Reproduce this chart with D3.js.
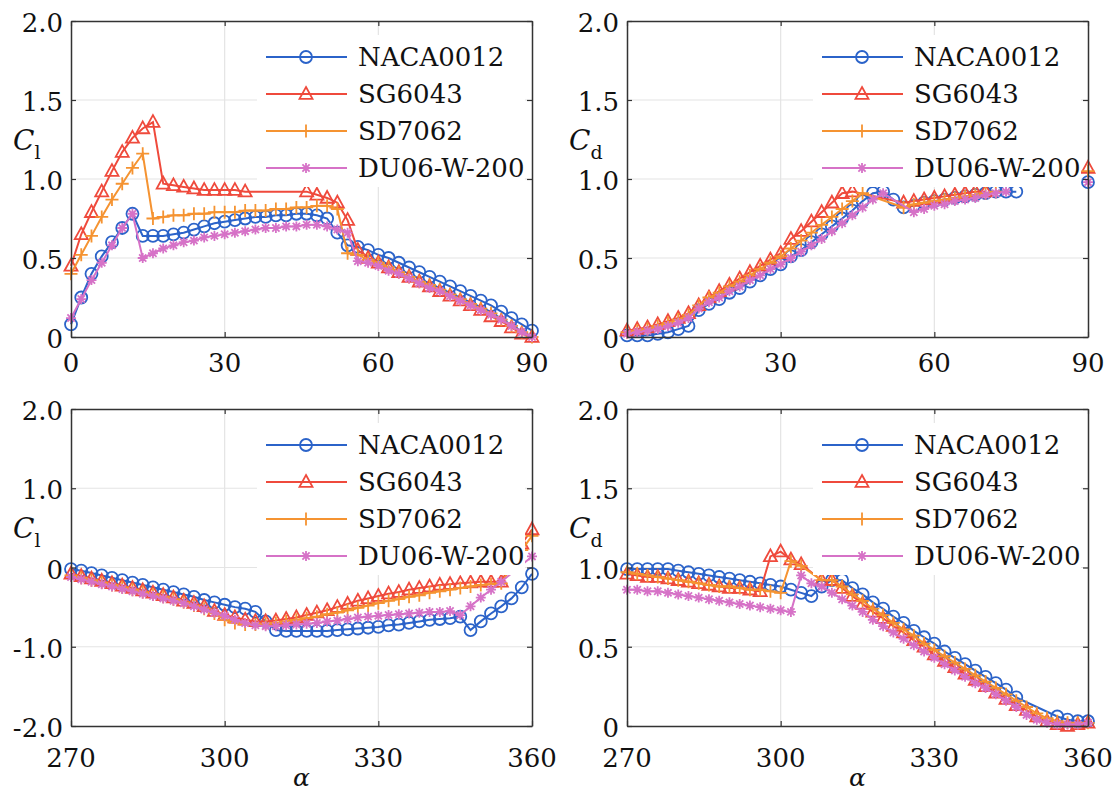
<!DOCTYPE html>
<html>
<head>
<meta charset="utf-8">
<script src="https://cdn.jsdelivr.net/npm/d3@7/dist/d3.min.js"></script>
<style>
  body { margin: 0; background: #fff; }
  text { font-family: "DejaVu Serif", serif; fill: #111; }
</style>
</head>
<body>
<svg id="chart" width="1116" height="794"></svg>
<script>
/* Lift / drag coefficients of four airfoils */
const names = ['NACA0012', 'SG6043', 'SD7062', 'DU06-W-200']
const colors = ['#2b63c9', '#ef4a3c', '#f59331', '#d672c7']
const markers = ['circle', 'triangle', 'plus', 'star']

const alphaPos = [0, 2, 4, 6, 8, 10, 12, 14, 16, 18, 20, 22, 24, 26, 28, 30, 32, 34, 36, 38, 40, 42, 44,
    46, 48, 50, 52, 54, 56, 58, 60, 62, 64, 66, 68, 70, 72, 74, 76, 78, 80, 82, 84, 86, 88, 90]
const alphaNeg = [270, 272, 274, 276, 278, 280, 282, 284, 286, 288, 290, 292, 294, 296, 298, 300, 302, 304,
    306, 308, 310, 312, 314, 316, 318, 320, 322, 324, 326, 328, 330, 332, 334, 336, 338, 340, 342, 344, 346,
    348, 350, 352, 354, 356, 358, 360]

const xTicksPos = [0, 30, 60, 90]
const xTicksNeg = [270, 300, 330, 360]
const yTicksA = [0, 0.5, 1, 1.5, 2]
const yTickLabelsA = ['0', '0.5', '1.0', '1.5', '2.0']
const yTicksB = [-2, -1, 0, 1, 2]
const yTickLabelsB = ['-2.0', '-1.0', '0', '1.0', '2.0']

// Cl, 0..90
const nacaClPos = [0.08, 0.25, 0.40, 0.51, 0.60, 0.69, 0.78, 0.64, 0.64, 0.64,
    0.65, 0.66, 0.68, 0.70, 0.72, 0.73, 0.74, 0.75, 0.76, 0.76,
    0.77, 0.77, 0.78, 0.78, 0.77, 0.75, 0.66, 0.58, 0.57, 0.55,
    0.52, 0.50, 0.47, 0.44, 0.41, 0.38, 0.35, 0.32, 0.29, 0.26,
    0.23, 0.20, 0.16, 0.12, 0.08, 0.04]
const sgClPos = [0.45, 0.65, 0.79, 0.92, 1.05, 1.17, 1.26, 1.32, 1.36, 0.97,
    0.96, 0.95, 0.94, 0.93, 0.93, 0.93, 0.93, 0.92, null, null,
    null, null, null, 0.92, 0.90, 0.88, 0.85, 0.74, 0.55, 0.50,
    0.47, 0.44, 0.41, 0.38, 0.35, 0.32, 0.29, 0.26, 0.23, 0.20,
    0.17, 0.13, 0.10, 0.06, 0.02, 0.00]
const sdClPos = [0.40, 0.52, 0.64, 0.76, 0.87, 0.97, 1.07, 1.16, 0.75, 0.76,
    0.77, 0.77, 0.78, 0.78, 0.79, 0.79, 0.79, 0.80, 0.80, 0.80,
    0.81, 0.81, 0.82, 0.82, 0.83, 0.83, 0.81, 0.53, 0.52, 0.49,
    0.47, 0.44, 0.41, 0.38, 0.35, 0.33, 0.30, 0.27, 0.24, 0.21,
    0.18, 0.15, 0.11, 0.07, 0.03, 0.00]
const duClPos = [0.12, 0.24, 0.36, 0.47, 0.58, 0.69, 0.78, 0.50, 0.53, 0.56,
    0.58, 0.60, 0.61, 0.63, 0.64, 0.65, 0.66, 0.67, 0.68, 0.69,
    0.69, 0.70, 0.70, 0.71, 0.71, 0.70, 0.68, 0.66, 0.48, 0.47,
    0.45, 0.42, 0.40, 0.37, 0.34, 0.31, 0.29, 0.26, 0.23, 0.20,
    0.17, 0.14, 0.11, 0.07, 0.03, 0.00]

// Cd, 0..90
const nacaCdPos = [0.01, 0.01, 0.01, 0.02, 0.03, 0.05, 0.07, 0.17, 0.21, 0.24,
    0.28, 0.31, 0.35, 0.39, 0.43, 0.46, 0.51, 0.55, 0.60, 0.65,
    0.70, 0.75, 0.80, 0.86, 0.91, 0.92, 0.87, 0.82, 0.83, 0.85,
    0.86, 0.87, 0.88, 0.89, 0.90, 0.91, 0.92, 0.92, 0.92, null,
    null, null, null, null, null, 0.98]
const sgCdPos = [0.04, 0.05, 0.06, 0.08, 0.10, 0.12, 0.15, 0.20, 0.25, 0.29,
    0.33, 0.37, 0.41, 0.45, 0.49, 0.53, 0.62, 0.67, 0.73, 0.79,
    0.85, 0.91, 0.92, null, null, null, null, 0.85, 0.86, 0.87,
    0.88, 0.89, 0.90, 0.91, 0.92, 0.92, null, null, null, null,
    null, null, null, null, null, 1.07]
const sdCdPos = [0.03, 0.04, 0.05, 0.07, 0.09, 0.11, 0.14, 0.20, 0.25, 0.28,
    0.32, 0.35, 0.39, 0.43, 0.47, 0.51, 0.56, 0.61, 0.66, 0.71,
    0.76, 0.81, 0.86, 0.91, null, null, null, 0.82, 0.84, 0.85,
    0.86, 0.87, 0.88, 0.89, 0.90, 0.91, 0.92, null, null, null,
    null, null, null, null, null, 1.05]
const duCdPos = [0.02, 0.03, 0.04, 0.05, 0.07, 0.09, 0.12, 0.18, 0.22, 0.25,
    0.29, 0.32, 0.36, 0.39, 0.43, 0.46, 0.50, 0.54, 0.58, 0.62,
    0.67, 0.72, 0.77, 0.82, 0.87, 0.91, null, null, 0.79, 0.81,
    0.83, 0.84, 0.86, 0.87, 0.88, 0.90, 0.91, 0.92, null, null,
    null, null, null, null, null, 0.98]

// Cl, 270..360
const nacaClNeg = [-0.02, -0.04, -0.07, -0.10, -0.13, -0.16, -0.19, -0.22, -0.25, -0.28,
    -0.31, -0.34, -0.37, -0.41, -0.44, -0.47, -0.50, -0.52, -0.56, -0.68,
    -0.79, -0.80, -0.80, -0.80, -0.80, -0.80, -0.79, -0.78, -0.77, -0.76,
    -0.75, -0.73, -0.72, -0.70, -0.68, -0.66, -0.65, -0.64, -0.62, -0.79,
    -0.68, -0.58, -0.49, -0.39, -0.25, -0.08]
const sgClNeg = [-0.08, -0.11, -0.14, -0.17, -0.20, -0.23, -0.26, -0.29, -0.32, -0.35,
    -0.38, -0.42, -0.45, -0.49, -0.55, -0.60, -0.63, -0.66, -0.68, -0.68,
    -0.67, -0.65, -0.63, -0.60, -0.57, -0.54, -0.50, -0.46, -0.42, -0.39,
    -0.36, -0.33, -0.31, -0.28, -0.26, -0.24, -0.22, -0.21, -0.20, -0.19,
    -0.18, -0.18, -0.18, null, 0.30, 0.48]
const sdClNeg = [-0.10, -0.13, -0.16, -0.19, -0.22, -0.25, -0.28, -0.31, -0.34, -0.37,
    -0.40, -0.44, -0.48, -0.52, -0.58, -0.66, -0.70, -0.72, -0.72, -0.71,
    -0.70, -0.68, -0.66, -0.64, -0.62, -0.59, -0.57, -0.54, -0.51, -0.48,
    -0.45, -0.42, -0.40, -0.37, -0.35, -0.32, -0.30, -0.28, -0.26, -0.24,
    -0.22, -0.21, -0.20, null, 0.22, 0.40]
const duClNeg = [-0.12, -0.15, -0.18, -0.21, -0.24, -0.27, -0.30, -0.33, -0.36, -0.39,
    -0.42, -0.45, -0.49, -0.53, -0.57, -0.61, -0.66, -0.70, -0.73, -0.74,
    -0.74, -0.73, -0.72, -0.71, -0.70, -0.68, -0.67, -0.65, -0.63, -0.62,
    -0.61, -0.60, -0.59, -0.58, -0.57, -0.56, -0.56, -0.55, -0.60, -0.49,
    -0.38, -0.28, -0.18, null, null, 0.14]

// Cd, 270..360
const nacaCdNeg = [0.99, 0.99, 0.99, 0.99, 0.99, 0.98, 0.97, 0.96, 0.95, 0.94,
    0.93, 0.92, 0.91, 0.90, 0.89, 0.88, 0.86, 0.84, 0.82, 0.88,
    0.92, 0.92, 0.87, 0.83, 0.78, 0.74, 0.69, 0.65, 0.60, 0.56,
    0.52, 0.47, 0.43, 0.39, 0.35, 0.31, 0.27, 0.23, 0.18, null,
    null, null, 0.06, 0.04, 0.03, 0.03]
const sgCdNeg = [0.96, 0.95, 0.94, 0.94, 0.93, 0.92, 0.91, 0.90, 0.89, 0.88,
    0.87, 0.87, 0.86, 0.85, 1.07, 1.10, 1.05, 1.02, null, 0.92,
    0.92, 0.87, 0.82, 0.77, 0.72, 0.68, 0.63, 0.59, 0.54, 0.50,
    0.45, 0.41, 0.37, 0.33, 0.29, 0.25, 0.21, 0.17, 0.13, 0.10,
    0.06, 0.03, 0.01, 0.00, 0.01, 0.02]
const sdCdNeg = [0.97, 0.96, 0.95, 0.94, 0.93, 0.92, 0.91, 0.90, 0.89, 0.88,
    0.88, 0.87, 0.86, 0.86, 0.85, 0.84, 1.04, 1.01, null, 0.92,
    0.92, 0.88, 0.83, 0.79, 0.74, 0.70, 0.65, 0.61, 0.57, 0.52,
    0.48, 0.44, 0.40, 0.36, 0.32, 0.28, 0.24, 0.20, 0.16, 0.12,
    0.08, 0.05, 0.03, 0.02, 0.02, 0.02]
const duCdNeg = [0.86, 0.86, 0.85, 0.85, 0.84, 0.83, 0.82, 0.81, 0.80, 0.79,
    0.78, 0.77, 0.76, 0.75, 0.74, 0.73, 0.72, 0.95, 0.90, 0.88,
    0.84, 0.80, 0.76, 0.72, 0.67, 0.63, 0.59, 0.55, 0.51, 0.47,
    0.43, 0.39, 0.35, 0.31, 0.27, 0.24, 0.20, 0.16, 0.12, 0.07,
    0.04, 0.02, 0.01, 0.01, 0.01, 0.02]

const plotW = 461
const maxGap = 12   // wider gaps in alpha are left open
const panels = [
    { left: 71, top: 21, h: 316, alpha: alphaPos, xd: [0, 90], xt: xTicksPos, yd: [0, 2], yt: yTicksA, ytl: yTickLabelsA,
      sub: 'l', series: [nacaClPos, sgClPos, sdClPos, duClPos], xlab: false },
    { left: 627, top: 21, h: 316, alpha: alphaPos, xd: [0, 90], xt: xTicksPos, yd: [0, 2], yt: yTicksA, ytl: yTickLabelsA,
      sub: 'd', series: [nacaCdPos, sgCdPos, sdCdPos, duCdPos], xlab: false },
    { left: 71, top: 409, h: 317, alpha: alphaNeg, xd: [270, 360], xt: xTicksNeg, yd: [-2, 2], yt: yTicksB, ytl: yTickLabelsB,
      sub: 'l', series: [nacaClNeg, sgClNeg, sdClNeg, duClNeg], xlab: true },
    { left: 627, top: 409, h: 317, alpha: alphaNeg, xd: [270, 360], xt: xTicksNeg, yd: [0, 2], yt: yTicksA, ytl: yTickLabelsA,
      sub: 'd', series: [nacaCdNeg, sgCdNeg, sdCdNeg, duCdNeg], xlab: true }
]

const svg = d3.select('#chart')

const markerPath = {
    triangle: 'M0,-7L6.5,4.8L-6.5,4.8Z',
    plus: 'M-6.5,0H6.5M0,-6.5V6.5',
    star: 'M-5,0H5M0,-5V5M-3.6,-3.6L3.6,3.6M-3.6,3.6L3.6,-3.6'
}

const drawMarker = (g, kind, color) => {
    if (kind === 'circle') {
        g.append('circle').attr('r', 6)
            .attr('fill', 'none').attr('stroke', color).attr('stroke-width', 1.8)
    } else {
        g.append('path').attr('d', markerPath[kind])
            .attr('fill', 'none').attr('stroke', color).attr('stroke-width', 1.8)
    }
}

panels.forEach(p => {
    const x = d3.scaleLinear().domain(p.xd).range([p.left, p.left + plotW])
    const y = d3.scaleLinear().domain(p.yd).range([p.top + p.h, p.top])
    const g = svg.append('g')

    // grid
    g.append('g').selectAll('line')
        .data(p.xt.slice(1, -1)).enter().append('line')
        .attr('x1', d => x(d)).attr('x2', d => x(d))
        .attr('y1', p.top).attr('y2', p.top + p.h)
        .attr('stroke', '#e4e4e4').attr('stroke-width', 1.2)
    g.append('g').selectAll('line')
        .data(p.yt.slice(1, -1)).enter().append('line')
        .attr('y1', d => y(d)).attr('y2', d => y(d))
        .attr('x1', p.left).attr('x2', p.left + plotW)
        .attr('stroke', '#e4e4e4').attr('stroke-width', 1.2)

    // series
    const line = d3.line().x(d => x(d[0])).y(d => y(d[1]))
    p.series.forEach((vals, k) => {
        const pts = p.alpha.map((a, i) => [a, vals[i]]).filter(d => d[1] !== null)
        const segs = []
        pts.forEach((d, i) => {
            if (i === 0 || d[0] - pts[i - 1][0] > maxGap) segs.push([])
            segs[segs.length - 1].push(d)
        })
        segs.forEach(s => {
            g.append('path').datum(s)
                .attr('d', line)
                .attr('fill', 'none')
                .attr('stroke', colors[k])
                .attr('stroke-width', 2)
        })
        pts.forEach(d => {
            const m = g.append('g').attr('transform', `translate(${x(d[0])},${y(d[1])})`)
            drawMarker(m, markers[k], colors[k])
        })
    })

    // legend (opaque box, no border)
    const lg = g.append('g')
    lg.append('rect')
        .attr('x', p.left + 186).attr('y', p.top + 14)
        .attr('width', 268).attr('height', 152)
        .attr('fill', '#fff')
    names.forEach((n, k) => {
        const ly = p.top + 36 + k * 37
        lg.append('line')
            .attr('x1', p.left + 195).attr('x2', p.left + 276)
            .attr('y1', ly).attr('y2', ly)
            .attr('stroke', colors[k]).attr('stroke-width', 2)
        const m = lg.append('g').attr('transform', `translate(${p.left + 235},${ly})`)
        drawMarker(m, markers[k], colors[k])
        lg.append('text')
            .attr('x', p.left + 287).attr('y', ly + 9)
            .attr('font-size', 26)
            .text(n)
    })

    // axes box with inward ticks on all sides
    g.append('g')
        .attr('transform', `translate(0,${p.top + p.h})`)
        .call(d3.axisBottom(x).tickValues(p.xt).tickSizeInner(-5).tickSizeOuter(0).tickFormat(''))
    g.append('g')
        .attr('transform', `translate(0,${p.top})`)
        .call(d3.axisTop(x).tickValues(p.xt).tickSizeInner(-5).tickSizeOuter(0).tickFormat(''))
    g.append('g')
        .attr('transform', `translate(${p.left},0)`)
        .call(d3.axisLeft(y).tickValues(p.yt).tickSizeInner(-5).tickSizeOuter(0).tickFormat(''))
    g.append('g')
        .attr('transform', `translate(${p.left + plotW},0)`)
        .call(d3.axisRight(y).tickValues(p.yt).tickSizeInner(-5).tickSizeOuter(0).tickFormat(''))
    g.selectAll('.domain').attr('stroke', '#333').attr('stroke-width', 1.5)
    g.selectAll('.tick line').attr('stroke', '#333').attr('stroke-width', 1.2)

    // tick labels
    g.selectAll('text.yl')
        .data(p.yt).enter().append('text')
        .attr('class', 'yl')
        .attr('x', p.left - 8).attr('y', d => y(d) + 11)
        .attr('text-anchor', 'end').attr('font-size', 26)
        .text((d, i) => p.ytl[i])
    g.selectAll('text.xl')
        .data(p.xt).enter().append('text')
        .attr('class', 'xl')
        .attr('x', d => x(d)).attr('y', p.top + p.h + (p.xlab ? 41 : 35))
        .attr('text-anchor', 'middle').attr('font-size', 26)
        .text(d => d)

    // y label
    const yl = g.append('text')
        .attr('x', p.left - 58).attr('y', p.top + 129)
        .attr('font-size', 28).attr('font-style', 'italic')
        .text('C')
    yl.append('tspan').attr('dy', 9).attr('font-size', 19).attr('font-style', 'normal').text(p.sub)

    if (p.xlab) {
        g.append('text')
            .attr('x', p.left + plotW / 2).attr('y', 786)
            .attr('text-anchor', 'middle').attr('font-size', 25).attr('font-style', 'italic')
            .text('α')
    }
})
</script>
</body>
</html>
